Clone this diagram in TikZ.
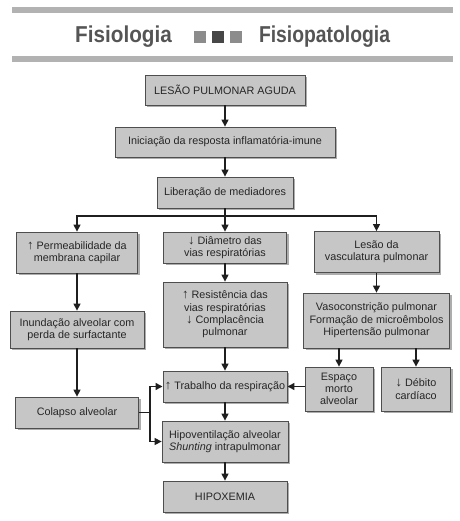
\documentclass[tikz,border=0pt]{standalone}
\usepackage{fontspec}
\setmainfont{Liberation Sans}
\usepackage{graphicx}
\usetikzlibrary{arrows.meta,shadows}

\definecolor{boxfill}{HTML}{C6C6C6}
\definecolor{boxline}{HTML}{4E4E4E}
\definecolor{barcol}{HTML}{B2B2B2}
\definecolor{titlecol}{HTML}{555555}

\newcommand{\upar}{{\fontsize{13}{12.3}\selectfont↑}}
\newcommand{\dnar}{{\fontsize{13}{12.3}\selectfont↓}}

\begin{document}
\begin{tikzpicture}[
        x=1pt, y=-1pt,
        -{Triangle[length=7pt,width=7pt]}, line width=1.4pt, color=black!88,
        box/.style={draw=boxline, line width=0.8pt, fill=boxfill, align=center,
                text=black!85, inner sep=2pt,
                drop shadow={shadow xshift=2.2pt, shadow yshift=-2.2pt, fill=black!40, opacity=0.8},
                font=\fontsize{10.8}{12.3}\selectfont},
        titletext/.style={text=titlecol, anchor=base, inner sep=0pt,
                font=\fontsize{23}{23}\selectfont\bfseries}
    ]
    \useasboundingbox[fill=white] (0,0) rectangle (459,521);

    % header
    \fill[barcol] (12,7) rectangle (453,13);
    \fill[barcol] (12,56) rectangle (453,62);
    \node[titletext] (fisio) at (123.5,43) {\scalebox{0.9}[1]{Fisiologia}};
    \node[titletext] (fisiopat) at (324.5,43) {\scalebox{0.84}[1]{Fisiopatologia}};
    \fill[black!45] (194,31) rectangle (206,43);
    \fill[black!72] (212,31) rectangle (224,43);
    \fill[black!45] (230,31) rectangle (242,43);

    % boxes
    \node[box, minimum width=160pt, minimum height=30pt] (lesao) at (225,90) {LESÃO PULMONAR AGUDA};
    \node[box, minimum width=220pt, minimum height=30pt] (inic) at (225,142) {Iniciação da resposta inflamatória-imune};
    \node[box, minimum width=136pt, minimum height=31pt] (liber) at (225,192.5) {Liberação de mediadores};

    \node[box, minimum width=121pt, minimum height=41pt] (perm) at (77,252.5) {\upar{} Permeabilidade da\\membrana capilar};
    \node[box, minimum width=123pt, minimum height=31pt] (diam) at (225,247.5) {\dnar{} Diâmetro das\\vias respiratórias};
    \node[box, minimum width=125pt, minimum height=41pt] (vasc) at (376.5,252) {Lesão da\\vasculatura pulmonar};

    \node[box, minimum width=134pt, minimum height=37pt] (inund) at (77,329.5) {Inundação alveolar com\\perda de surfactante};
    \node[box, minimum width=124pt, minimum height=65pt] (resist) at (225,314.5) {\upar{} Resistência das\\vias respiratórias\\\dnar{} Complacência\\pulmonar};
    \node[box, minimum width=146pt, minimum height=55pt] (vaso) at (376.5,320.5) {Vasoconstrição pulmonar\\Formação de microêmbolos\\Hipertensão pulmonar};

    \node[box, minimum width=124pt, minimum height=31pt] (trab) at (225,386.5) {\upar{} Trabalho da respiração};
    \node[box, minimum width=68pt, minimum height=44pt] (espaco) at (339,389) {Espaço\\morto\\alveolar};
    \node[box, minimum width=69pt, minimum height=44pt] (debito) at (416,389) {\dnar{} Débito\\cardíaco};

    \node[box, minimum width=123pt, minimum height=31pt] (colapso) at (77,412.5) {Colapso alveolar};
    \node[box, minimum width=126pt, minimum height=41pt] (hipov) at (225,441.5) {Hipoventilação alveolar\\\textit{Shunting} intrapulmonar};
    \node[box, minimum width=124pt, minimum height=31pt] (hipox) at (225,496.5) {HIPOXEMIA};

    \coordinate (split) at (225,216);
    \coordinate (fork) at (150,412.5);

    % connectors
    \draw (lesao) -- (inic);
    \draw (inic) -- (liber);
    \draw[-] (liber) -- (split);
    \draw (split) -| (perm);
    \draw (split) -- (diam);
    \draw (split) -| (vasc);

    \draw (perm) -- (inund);
    \draw (inund) -- (colapso);
    \draw (diam) -- (resist);
    \draw (resist) -- (trab);
    \draw (vasc) -- (vaso);
    \draw (espaco.north |- vaso.south) -- (espaco);
    \draw (debito.north |- vaso.south) -- (debito);
    \draw (espaco.west |- trab.east) -- (trab);

    \draw[-] (colapso) -- (fork);
    \draw (fork) |- (trab);
    \draw (fork) |- (hipov);
    \draw (trab) -- (hipov);
    \draw (hipov) -- (hipox);
\end{tikzpicture}
\end{document}
